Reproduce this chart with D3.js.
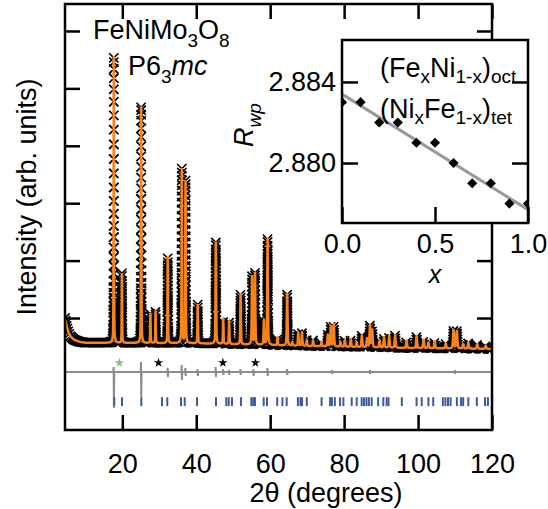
<!DOCTYPE html>
<html lang="en">
<head>
<meta charset="UTF-8">
<title>FeNiMo3O8 diffraction</title>
<script src="https://d3js.org/d3.v7.min.js"></script>
<style>
    body { margin: 0; background: #fff; }
    text { font-family: "Liberation Sans", Arial, sans-serif; fill: #000; }
</style>
</head>
<body>
<svg width="548" height="509" id="svg1"></svg>
<script>
    // Bragg peaks: 2theta and net height (counts above background)
    var peakPos = [17.7, 19.9, 25.1, 27.6, 29.0, 32.3, 36.1, 37.1, 40.4, 45.3, 47.3, 48.9, 52.0,
        55.1, 55.9, 58.3, 59.3, 62.0, 64.6, 66.0, 67.6, 68.6, 69.9, 71.6, 73.9, 75.6, 76.4, 77.2,
        79.0, 80.2, 81.8, 83.4, 84.8, 86.2, 87.0, 87.6, 89.6, 90.8, 92.2, 93.8, 96.9, 99.6, 101.5,
        102.8, 104.5, 107.5, 109.6, 110.5, 112.2, 113.6, 116.0, 118.3];
    var peakHeight = [4990, 1210, 4120, 520, 560, 1520, 3040, 2830, 680, 1780, 420, 390, 890,
        1200, 1250, 420, 1870, 140, 920, 60, 230, 230, 100, 100, 80, 200, 350, 380,
        80, 120, 140, 80, 200, 150, 380, 300, 120, 180, 200, 220, 130, 210, 150,
        100, 120, 80, 320, 300, 80, 100, 80, 60];
    // background knots
    var bgPos = [4.5, 5.0, 5.5, 6.0, 7.0, 8.5, 10, 40, 68, 95, 120];
    var bgVal = [1000, 850, 740, 680, 620, 585, 570, 560, 515, 478, 460];
    // difference curve spikes (counts): downward and upward swing
    var diffPos = [17.7, 25.1, 32.3, 36.1, 37.1, 40.4, 45.3, 47.3, 48.9, 52.0, 55.5, 59.3, 64.6, 76.8, 87.0, 110.0];
    var diffDown = [627, 435, 87, 140, 70, 70, 87, 52, 52, 52, 70, 70, 52, 35, 35, 35];
    var diffUp = [87, 174, 70, 122, 70, 52, 87, 52, 35, 52, 52, 70, 52, 35, 35, 35];
    // reflection positions (blue tick marks)
    var hklPos = [17.83, 19.92, 25.14, 30.74, 32.17, 35.88, 36.88, 40.21, 45.34, 48.13, 48.78, 49.67,
        52.09, 54.9, 55.4, 55.89, 58.25, 59.14, 61.9, 63.3, 64.46, 67.5, 68.2, 68.6, 69.9, 73.9,
        76.2, 76.7, 77.5, 78.9, 79.8, 82.05, 83.4, 84.75, 85.4, 86.05, 86.7, 87.46, 89.2, 90.6,
        91.5, 92.0, 95.6, 99.6, 101.0, 102.8, 104.1, 106.7, 107.4, 108.1, 108.8, 110.5, 111.6,
        112.2, 113.6, 115.9, 118.1, 118.9];
    var greenStarPos = [19.2];
    var blackStarPos = [29.8, 47.2, 56.0];
    var xTicks = [20, 40, 60, 80, 100, 120];
    var yTicks = [1000, 2000, 3000, 4000, 5000, 6000];

    // inset: Rwp against site mixing x
    var mixX = [0, 0.1, 0.2, 0.3, 0.4, 0.5, 0.6, 0.7, 0.8, 0.9, 1.0];
    var rwp = [2.883, 2.883, 2.882, 2.882, 2.881, 2.881, 2.880, 2.879, 2.879, 2.878, 2.878];
    var fitX = [0, 1];
    var fitRwp = [2.8834, 2.8777];
    var insetXTicks = [0, 0.5, 1.0];
    var insetYTicks = [2.880, 2.884];

    var svg = d3.select("#svg1"),
        fs = 27, sub = 19,
        orange = "#f7831e";

    var x = d3.scaleLinear().domain([4.5, 120]).range([65, 492]),
        y = d3.scaleLinear().domain([-951, 6470]).range([430, 4]);

    svg.append("clipPath").attr("id", "mainclip")
        .append("rect").attr("x", 65).attr("y", 4).attr("width", 427).attr("height", 426);

    // profile
    var bg = d3.scaleLinear().domain(bgPos).range(bgVal).clamp(true);
    function fwhm(t) { return 0.09 + 0.0022 * t; }
    var grid = d3.range(4.5, 120.0001, 0.005);
    var calc = grid.map(function (t) {
        var s = bg(t);
        for (var i = 0; i < peakPos.length; i++) {
            var dx = t - peakPos[i];
            if (Math.abs(dx) > 5) continue;
            var h = fwhm(peakPos[i]), u = 4 * dx * dx / (h * h);
            s += peakHeight[i] * (0.5 * Math.exp(-Math.LN2 * u) + 0.5 / (1 + u));
        }
        return [t, s];
    });

    var plot = svg.append("g").attr("clip-path", "url(#mainclip)");

    // observed: x markers
    var r = 4.6, mk = "", lx = -99, ly = -99;
    calc.forEach(function (d) {
        var px = x(d[0]), py = y(d[1]);
        if (Math.abs(px - lx) >= 1.2 || Math.abs(py - ly) >= 2.6) {
            mk += "M" + (px - r).toFixed(1) + "," + (py - r).toFixed(1) + "l" + 2 * r + "," + 2 * r +
                "m0," + (-2 * r) + "l" + (-2 * r) + "," + 2 * r;
            lx = px; ly = py;
        }
    });
    plot.append("path").attr("d", mk).attr("stroke", "#000").attr("stroke-width", 1.6).attr("fill", "none");

    // calculated
    plot.append("path").datum(calc)
        .attr("d", d3.line().x(function (d) { return x(d[0]); }).y(function (d) { return y(d[1]); }))
        .attr("fill", "none").attr("stroke", orange).attr("stroke-width", 2.5);

    // difference
    var diffBase = 60, diffPts = [[4.5, 0]];
    diffPos.forEach(function (p, i) {
        diffPts.push([p - 0.12, 0], [p - 0.04, diffUp[i]], [p + 0.03, -diffDown[i]], [p + 0.12, 0]);
    });
    diffPts.push([120, 0]);
    plot.append("path").datum(diffPts)
        .attr("d", d3.line().x(function (d) { return x(d[0]); }).y(function (d) { return y(diffBase + d[1]); }))
        .attr("fill", "none").attr("stroke", "#8c8c8c").attr("stroke-width", 2);

    // impurity stars
    var star = d3.symbol().type(d3.symbolStar).size(28);
    plot.selectAll(".gstar").data(greenStarPos).enter().append("path")
        .attr("d", star).attr("fill", "#7cc576")
        .attr("transform", function (d) { return "translate(" + x(d) + "," + y(220) + ")"; });
    plot.selectAll(".bstar").data(blackStarPos).enter().append("path")
        .attr("d", star).attr("fill", "#000")
        .attr("transform", function (d) { return "translate(" + x(d) + "," + y(220) + ")"; });

    // reflection ticks
    plot.selectAll(".hkl").data(hklPos).enter().append("line")
        .attr("x1", function (d) { return x(d); }).attr("x2", function (d) { return x(d); })
        .attr("y1", y(-380)).attr("y2", y(-535))
        .attr("stroke", "#3b5da0").attr("stroke-width", 2);

    // axes
    function styleAxis(g) {
        g.select(".domain").remove();
        g.selectAll(".tick line").attr("stroke", "#000").attr("stroke-width", 2.5);
        g.selectAll(".tick text").attr("font-size", fs).attr("font-family", "Liberation Sans, Arial, sans-serif");
    }
    svg.append("g").attr("transform", "translate(0,430)")
        .call(d3.axisBottom(x).tickValues(xTicks).tickSize(-15).tickPadding(24)).call(styleAxis);
    svg.append("g").attr("transform", "translate(0,4)")
        .call(d3.axisTop(x).tickValues(xTicks).tickSize(-15).tickFormat("")).call(styleAxis);
    svg.append("g").attr("transform", "translate(65,0)")
        .call(d3.axisLeft(y).tickValues(yTicks).tickSize(-15).tickFormat("")).call(styleAxis);
    svg.append("g").attr("transform", "translate(492,0)")
        .call(d3.axisRight(y).tickValues(yTicks).tickSize(-15).tickFormat("")).call(styleAxis);
    svg.append("rect").attr("x", 65).attr("y", 4).attr("width", 427).attr("height", 426)
        .attr("fill", "none").attr("stroke", "#000").attr("stroke-width", 2.5);

    // labels
    svg.append("text").attr("transform", "translate(36,197) rotate(-90)")
        .attr("text-anchor", "middle").attr("font-size", fs).text("Intensity (arb. units)");
    svg.append("text").attr("x", 326).attr("y", 502).attr("text-anchor", "middle")
        .attr("font-size", fs).text("2\u03b8 (degrees)");

    var t1 = svg.append("text").attr("x", 93).attr("y", 39).attr("font-size", fs);
    t1.append("tspan").text("FeNiMo");
    t1.append("tspan").attr("font-size", sub).attr("dy", 8).text("3");
    t1.append("tspan").attr("dy", -8).text("O");
    t1.append("tspan").attr("font-size", sub).attr("dy", 8).text("8");
    var t2 = svg.append("text").attr("x", 128).attr("y", 75).attr("font-size", fs);
    t2.append("tspan").text("P6");
    t2.append("tspan").attr("font-size", sub).attr("dy", 8).text("3");
    t2.append("tspan").attr("dy", -8).attr("font-style", "italic").text("mc");

    // inset
    var ix = d3.scaleLinear().domain([0, 1]).range([342, 528]),
        iy = d3.scaleLinear().domain([2.87704, 2.88607]).range([223, 40]);
    var inset = svg.append("g");
    inset.append("rect").attr("x", 342).attr("y", 40).attr("width", 186).attr("height", 183)
        .attr("fill", "#fff");
    svg.append("clipPath").attr("id", "insetclip")
        .append("rect").attr("x", 342).attr("y", 40).attr("width", 186).attr("height", 183);
    var ip = inset.append("g").attr("clip-path", "url(#insetclip)");
    ip.append("path").datum(d3.zip(fitX, fitRwp))
        .attr("d", d3.line().x(function (d) { return ix(d[0]); }).y(function (d) { return iy(d[1]); }))
        .attr("stroke", "#999").attr("stroke-width", 3).attr("fill", "none");
    ip.selectAll(".pt").data(d3.zip(mixX, rwp)).enter().append("rect")
        .attr("x", -3.6).attr("y", -3.6).attr("width", 7.2).attr("height", 7.2).attr("fill", "#000")
        .attr("transform", function (d) { return "translate(" + ix(d[0]) + "," + iy(d[1]) + ") rotate(45)"; });

    inset.append("g").attr("transform", "translate(0,223)")
        .call(d3.axisBottom(ix).tickValues(insetXTicks).tickSize(-16).tickPadding(11).tickFormat(d3.format(".1f")))
        .call(styleAxis);
    inset.append("g").attr("transform", "translate(342,0)")
        .call(d3.axisLeft(iy).tickValues(insetYTicks).tickSize(-16).tickPadding(6).tickFormat(d3.format(".3f")))
        .call(styleAxis);
    inset.append("g").attr("transform", "translate(528,0)")
        .call(d3.axisRight(iy).tickValues(insetYTicks).tickSize(-16).tickFormat(""))
        .call(styleAxis);
    inset.append("rect").attr("x", 342).attr("y", 40).attr("width", 186).attr("height", 183)
        .attr("fill", "none").attr("stroke", "#000").attr("stroke-width", 2.5);

    inset.append("text").attr("x", 435).attr("y", 283).attr("text-anchor", "middle")
        .attr("font-size", 25).attr("font-style", "italic").text("x");
    var rl = inset.append("text").attr("transform", "translate(253,147) rotate(-90)").attr("font-size", fs)
        .attr("font-style", "italic");
    rl.append("tspan").text("R");
    rl.append("tspan").attr("font-size", sub).attr("dy", 8).text("wp");

    var l1 = inset.append("text").attr("x", 380).attr("y", 77).attr("font-size", fs);
    l1.append("tspan").text("(Fe");
    l1.append("tspan").attr("font-size", sub).attr("dy", 6).text("x");
    l1.append("tspan").attr("dy", -6).text("Ni");
    l1.append("tspan").attr("font-size", sub).attr("dy", 6).text("1-x");
    l1.append("tspan").attr("dy", -6).text(")");
    l1.append("tspan").attr("font-size", sub).attr("dy", 6).text("oct");
    var l2 = inset.append("text").attr("x", 380).attr("y", 118).attr("font-size", fs);
    l2.append("tspan").text("(Ni");
    l2.append("tspan").attr("font-size", sub).attr("dy", 6).text("x");
    l2.append("tspan").attr("dy", -6).text("Fe");
    l2.append("tspan").attr("font-size", sub).attr("dy", 6).text("1-x");
    l2.append("tspan").attr("dy", -6).text(")");
    l2.append("tspan").attr("font-size", sub).attr("dy", 6).text("tet");
</script>
</body>
</html>
